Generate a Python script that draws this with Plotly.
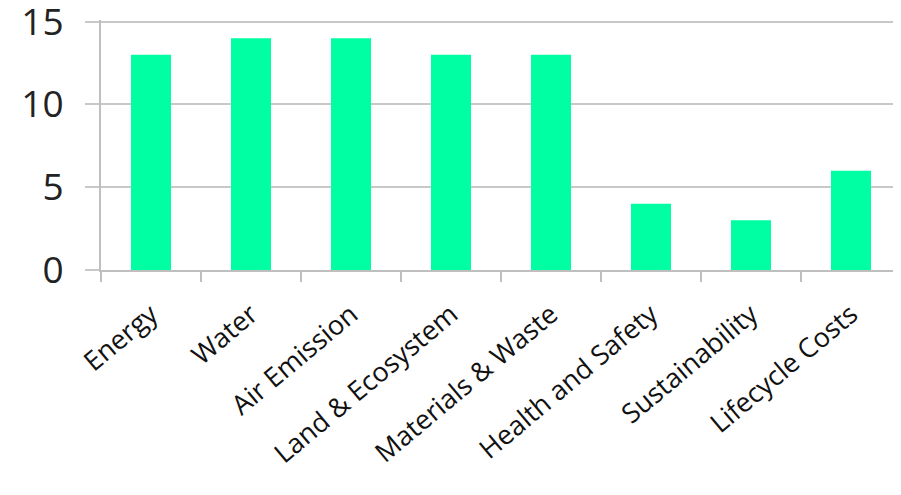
import plotly.graph_objects as go

categories = ["Energy", "Water", "Air Emission", "Land & Ecosystem",
              "Materials & Waste", "Health and Safety", "Sustainability", "Lifecycle Costs"]
values = [13, 14, 14, 13, 13, 4, 3, 6]
y_ticks = [0, 5, 10, 15]

fig = go.Figure(go.Bar(x=categories, y=values, marker=dict(color="#00FFA2", line=dict(width=0))))

# the page body has an 8px margin, so the figure is sized/offset to compensate
fig.update_layout(
    width=893, height=487,
    margin=dict(l=93, r=0, t=12, b=225),
    paper_bgcolor="white", plot_bgcolor="white",
    bargap=0.6, showlegend=False,
    font=dict(family="Open Sans, Liberation Sans, sans-serif", color="#222222"),
)
fig.update_xaxes(
    automargin=False,
    showline=True, linecolor="#BFBFBF", linewidth=2,
    ticks="outside", tickson="boundaries", ticklen=10, tickcolor="#BFBFBF", tickwidth=2,
    tickangle=-40, tickfont=dict(size=27, color="#111111"),
    ticklabelstandoff=16,
    showgrid=False,
)
fig.update_yaxes(
    automargin=False,
    range=[0, 15.1], tickvals=y_ticks,
    showline=True, linecolor="#BFBFBF", linewidth=2,
    showgrid=True, gridcolor="#C8C8C8", gridwidth=2,
    ticks="outside", ticklen=14, tickcolor="#C8C8C8", tickwidth=2,
    tickfont=dict(size=37, color="#222222"),
    ticklabelstandoff=14, ticklabeloverflow="allow",
    zeroline=False,
)

fig.write_html("out.html")
